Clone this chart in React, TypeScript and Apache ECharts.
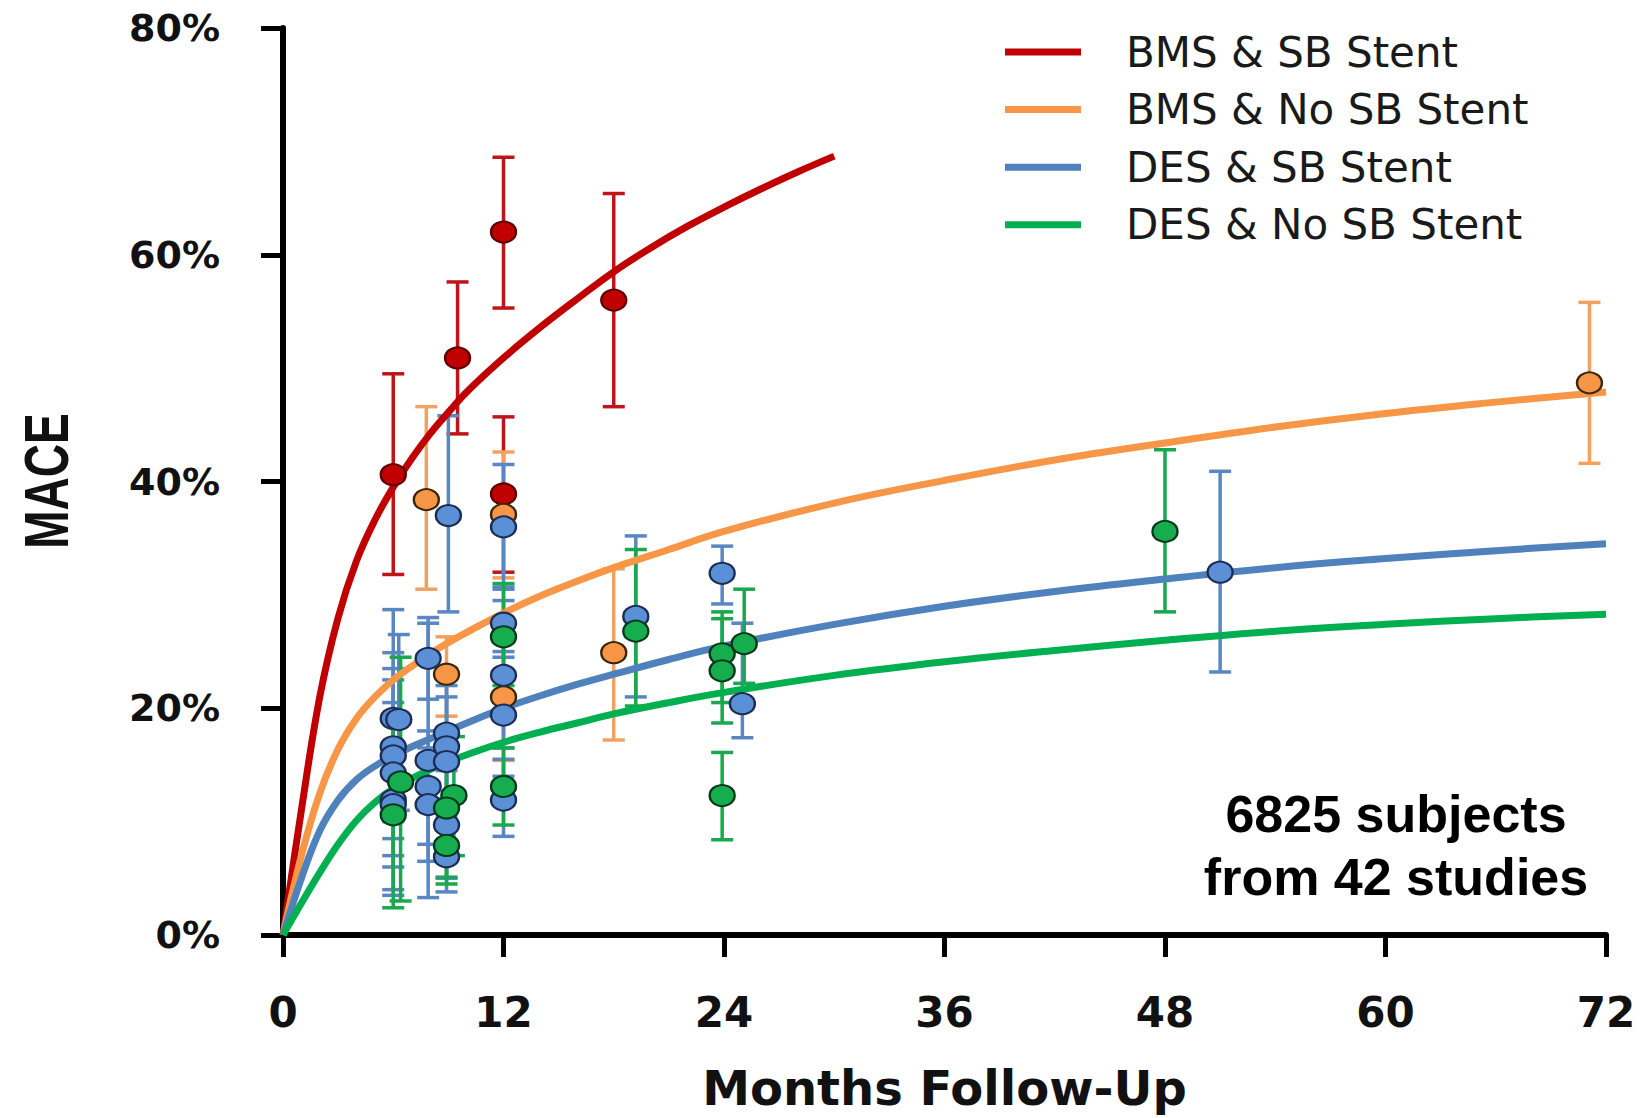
import React, { useEffect, useRef } from 'react';
import * as echarts from 'echarts';

const seriesNames = ['BMS & SB Stent', 'BMS & No SB Stent', 'DES & SB Stent', 'DES & No SB Stent'];
const lineColors = ['#c00000', '#f79646', '#4f81bd', '#00b050'];
const dotColors = ['#c00000', '#f79646', '#5b8fd6', '#16ad4f'];
const dotBorders = ['#5c0000', '#3a2608', '#1c2c55', '#06391b'];
const barColors = ['#c0141b', '#f2a25e', '#5a86c2', '#1aa84f'];

// fitted curves: [month, MACE %]
const bmsSbCurve = [[0, 0], [1, 11], [2, 21], [3, 28], [4, 33], [5, 36.6], [6, 39.5], [7, 42], [8, 44.2], [9, 46.1], [10, 47.9], [12, 50.9], [14, 53.6], [16, 56.1], [18, 58.5], [20, 60.6], [22, 62.5], [24, 64.2], [26, 65.8], [28, 67.3], [30, 68.7]];
const bmsNoSbCurve = [[0, 0], [1, 7], [2, 12.5], [3, 16.4], [4, 19.1], [5, 21.0], [6, 22.5], [7, 23.7], [8, 24.8], [9, 25.8], [10, 26.7], [12, 28.4], [14, 29.9], [16, 31.2], [18, 32.4], [21, 34.0], [24, 35.6], [30, 38.1], [36, 40.1], [42, 41.9], [48, 43.4], [54, 44.8], [60, 46], [66, 47], [72, 47.9]];
const desSbCurve = [[0, 0], [1, 5], [2, 9.2], [3, 11.9], [4, 13.7], [5, 14.9], [6, 15.8], [7, 16.6], [8, 17.3], [9, 18.0], [10, 18.7], [12, 20.0], [14, 21.1], [16, 22.1], [18, 23.0], [21, 24.3], [24, 25.5], [30, 27.4], [36, 29.0], [42, 30.3], [48, 31.4], [54, 32.4], [60, 33.2], [66, 33.9], [72, 34.5]];
const desNoSbCurve = [[0, 0], [1, 2.8], [2, 5.5], [3, 8.0], [4, 10.1], [5, 11.7], [6, 12.9], [7, 13.8], [8, 14.6], [9, 15.3], [10, 15.9], [12, 17.0], [14, 17.9], [16, 18.7], [18, 19.5], [21, 20.5], [24, 21.4], [30, 22.9], [36, 24.1], [42, 25.1], [48, 26.0], [54, 26.8], [60, 27.4], [66, 27.9], [72, 28.3]];

// study points: [month, MACE %, lower CI, upper CI]
const bmsSbPoints = [
  [6.0, 40.6, 31.8, 49.5],
  [9.5, 50.9, 44.2, 57.6],
  [12.0, 62.0, 55.3, 68.6],
  [12.0, 38.9, 32.0, 45.7],
  [18.0, 56.0, 46.6, 65.4],
];
const bmsNoSbPoints = [
  [7.8, 38.4, 30.5, 46.6],
  [8.9, 23.0, 19.3, 26.3],
  [12.0, 37.1, 31.5, 42.6],
  [12.0, 21.0, 15.4, 27.0],
  [18.0, 24.9, 17.2, 32.3],
  [71.1, 48.7, 41.6, 55.8],
];
const desSbPoints = [
  [6.0, 19.1, 10.0, 28.7],
  [6.3, 19.0, 11.0, 26.5],
  [6.0, 16.6, 8.5, 24.9],
  [6.0, 15.8, 7.0, 23.5],
  [6.0, 14.3, 6.0, 22.5],
  [6.0, 11.9, 4.0, 20.5],
  [6.0, 11.5, 3.5, 19.5],
  [7.9, 24.4, 20.8, 28.0],
  [7.9, 15.4, 3.3, 27.5],
  [7.9, 13.1, 8.0, 18.0],
  [7.9, 11.5, 6.5, 16.5],
  [9.0, 37.0, 28.5, 45.8],
  [8.9, 17.8, 12.0, 23.5],
  [8.9, 16.6, 11.0, 22.0],
  [8.9, 15.3, 10.0, 21.0],
  [8.9, 9.7, 5.0, 14.5],
  [8.9, 6.9, 3.8, 10.5],
  [12.0, 36.0, 30.7, 41.5],
  [12.0, 27.5, 24.5, 30.5],
  [12.0, 22.9, 16.5, 29.5],
  [12.0, 19.4, 14.0, 25.0],
  [12.0, 11.9, 8.7, 15.5],
  [19.2, 28.1, 21.0, 35.2],
  [23.9, 31.9, 29.2, 34.3],
  [25.0, 20.4, 17.4, 27.5],
  [51.0, 32.0, 23.2, 40.9],
];
const desNoSbPoints = [
  [6.4, 13.5, 3.0, 24.5],
  [6.0, 10.6, 2.4, 19.0],
  [9.3, 12.3, 7.0, 17.5],
  [8.9, 11.2, 5.1, 17.0],
  [8.9, 7.9, 4.5, 11.5],
  [12.0, 26.3, 22.0, 31.0],
  [12.0, 13.1, 9.7, 16.5],
  [19.2, 26.8, 20.2, 34.0],
  [23.9, 24.8, 20.5, 28.5],
  [23.9, 23.3, 18.7, 27.9],
  [25.1, 25.7, 22.2, 30.5],
  [23.9, 12.3, 8.4, 16.1],
  [48.0, 35.6, 28.5, 42.8],
];

const curves = [bmsSbCurve, bmsNoSbCurve, desSbCurve, desNoSbCurve];
const pointSets = [bmsSbPoints, bmsNoSbPoints, desSbPoints, desNoSbPoints];

const xTitle = 'Months Follow-Up';
const yTitle = 'MACE';
const noteText = '6825 subjects\nfrom 42 studies';

export default function App() {
  const ref = useRef<HTMLDivElement>(null);
  useEffect(() => {
    document.body.style.margin = '0';
    const chart = echarts.init(ref.current!, null, { renderer: 'svg' });
    const series: any[] = [];
    seriesNames.forEach((name, i) => {
      const barColor = barColors[i];
      series.push({
        type: 'custom',
        name: name + ' CI',
        z: 1,
        silent: true,
        data: pointSets[i],
        encode: { x: 0, y: [1, 2, 3] },
        renderItem: (params: any, api: any) => {
          const x = api.value(0);
          const lo = api.coord([x, api.value(2)]);
          const hi = api.coord([x, api.value(3)]);
          const w = 11;
          const style = { stroke: barColor, lineWidth: 3.5 };
          return {
            type: 'group',
            children: [
              { type: 'line', shape: { x1: lo[0], y1: lo[1], x2: hi[0], y2: hi[1] }, style },
              { type: 'line', shape: { x1: lo[0] - w, y1: lo[1], x2: lo[0] + w, y2: lo[1] }, style },
              { type: 'line', shape: { x1: hi[0] - w, y1: hi[1], x2: hi[0] + w, y2: hi[1] }, style },
            ],
          };
        },
      });
    });
    seriesNames.forEach((name, i) => {
      series.push({
        type: 'line',
        name,
        z: 2,
        data: curves[i],
        showSymbol: false,
        symbol: 'none',
        smooth: 0.4,
        color: lineColors[i],
        lineStyle: { color: lineColors[i], width: 7 },
      });
    });
    seriesNames.forEach((name, i) => {
      series.push({
        type: 'scatter',
        name: name + ' studies',
        z: 3,
        data: pointSets[i].map((p) => [p[0], p[1]]),
        symbol: 'circle',
        symbolSize: [25, 21],
        itemStyle: { color: dotColors[i], borderColor: dotBorders[i], borderWidth: 2.2, opacity: 1 },
      });
    });

    chart.setOption({
      animation: false,
      backgroundColor: '#ffffff',
      grid: { left: 283, right: 40, top: 28, bottom: 183, containLabel: false, outerBoundsMode: 'none' },
      legend: {
        orient: 'vertical',
        left: 1000,
        top: 26,
        data: seriesNames,
        icon: 'rect',
        itemWidth: 76,
        itemHeight: 7,
        itemGap: 15.6,
        selectedMode: false,
        formatter: (n: string) => '{g|}' + n,
        textStyle: {
          fontFamily: 'DejaVu Sans',
          fontSize: 42,
          lineHeight: 40,
          color: '#1a1a1a',
          rich: { g: { width: 40, lineHeight: 40 } },
        },
      },
      xAxis: {
        type: 'value',
        min: 0,
        max: 72,
        interval: 12,
        name: xTitle,
        nameLocation: 'middle',
        nameGap: 129,
        nameTextStyle: { fontFamily: 'DejaVu Sans', fontWeight: 'bold', fontSize: 48, lineHeight: 48, color: '#111' },
        splitLine: { show: false },
        axisLine: { show: true, onZero: false, lineStyle: { color: '#000', width: 6 } },
        axisTick: { show: true, inside: false, length: 22, lineStyle: { color: '#000', width: 5 } },
        axisLabel: { margin: 56, fontFamily: 'DejaVu Sans', fontWeight: 'bold', fontSize: 42, color: '#111' },
      },
      yAxis: {
        type: 'value',
        min: 0,
        max: 80,
        interval: 20,
        splitLine: { show: false },
        axisLine: { show: true, onZero: false, lineStyle: { color: '#000', width: 6 } },
        axisTick: { show: true, inside: false, length: 22, lineStyle: { color: '#000', width: 5 } },
        axisLabel: { margin: 63, formatter: '{value}%', fontFamily: 'DejaVu Sans', fontWeight: 'bold', fontSize: 38, color: '#111' },
      },
      graphic: [
        {
          type: 'text',
          x: 47,
          y: 481,
          rotation: Math.PI / 2,
          scaleY: 1.35,
          style: {
            text: yTitle,
            font: 'bold 46px "Liberation Sans", Arial, sans-serif',
            fill: '#111',
            textAlign: 'center',
            textVerticalAlign: 'middle',
          },
        },
        {
          type: 'text',
          x: 1396,
          y: 845,
          style: {
            text: noteText,
            font: 'bold 52px "Liberation Sans", Arial, sans-serif',
            lineHeight: 63,
            fill: '#000',
            textAlign: 'center',
            textVerticalAlign: 'middle',
          },
        },
      ],
      series,
    });
    return () => chart.dispose();
  }, []);
  return <div ref={ref} style={{ width: 1646, height: 1118 }} />;
}
